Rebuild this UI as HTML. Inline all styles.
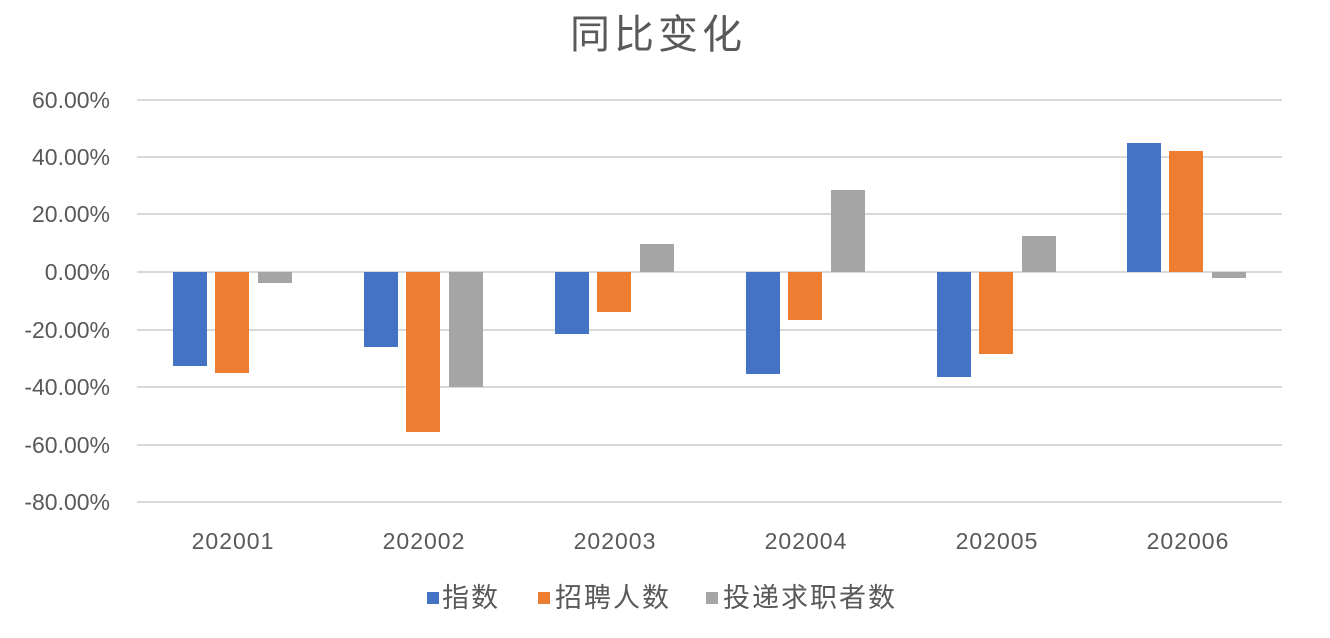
<!DOCTYPE html>
<html><head><meta charset="utf-8"><style>
html,body{margin:0;padding:0;background:#fff;}
svg{display:block;}
text{font-family:"Liberation Sans","Noto Sans CJK SC",sans-serif;fill:#595959;}
</style></head><body>
<svg width="1330" height="638" xmlns="http://www.w3.org/2000/svg">
<text x="658" y="48" font-size="40" text-anchor="middle" letter-spacing="4" fill="#595959">同比变化</text>
<g stroke="#d9d9d9" stroke-width="2">
<line x1="137" x2="1282" y1="100" y2="100"/>
<line x1="137" x2="1282" y1="157" y2="157"/>
<line x1="137" x2="1282" y1="214" y2="214"/>
<line x1="137" x2="1282" y1="272" y2="272"/>
<line x1="137" x2="1282" y1="330" y2="330"/>
<line x1="137" x2="1282" y1="387" y2="387"/>
<line x1="137" x2="1282" y1="445" y2="445"/>
<line x1="137" x2="1282" y1="502" y2="502"/>
</g>
<g font-size="23" text-anchor="end">
<text x="110" y="108">60.00%</text>
<text x="110" y="165">40.00%</text>
<text x="110" y="222">20.00%</text>
<text x="110" y="280">0.00%</text>
<text x="110" y="338">-20.00%</text>
<text x="110" y="395">-40.00%</text>
<text x="110" y="453">-60.00%</text>
<text x="110" y="510">-80.00%</text>
</g>
<g fill="#4472c4">
<rect x="173" y="272" width="34" height="94"/>
<rect x="364" y="272" width="34" height="75"/>
<rect x="555" y="272" width="34" height="62"/>
<rect x="746" y="272" width="34" height="102"/>
<rect x="937" y="272" width="34" height="105"/>
<rect x="1127" y="143" width="34" height="129"/>
</g>
<g fill="#ed7d31">
<rect x="215" y="272" width="34" height="101"/>
<rect x="406" y="272" width="34" height="160"/>
<rect x="597" y="272" width="34" height="40"/>
<rect x="788" y="272" width="34" height="48"/>
<rect x="979" y="272" width="34" height="82"/>
<rect x="1169" y="151" width="34" height="121"/>
</g>
<g fill="#a5a5a5">
<rect x="258" y="272" width="34" height="11"/>
<rect x="449" y="272" width="34" height="115"/>
<rect x="640" y="244" width="34" height="28"/>
<rect x="831" y="190" width="34" height="82"/>
<rect x="1022" y="236" width="34" height="36"/>
<rect x="1212" y="272" width="34" height="6"/>
</g>
<g font-size="23" text-anchor="middle" letter-spacing="1">
<text x="233" y="549">202001</text>
<text x="424" y="549">202002</text>
<text x="615" y="549">202003</text>
<text x="806" y="549">202004</text>
<text x="997" y="549">202005</text>
<text x="1188" y="549">202006</text>
</g>
<g font-size="27" letter-spacing="2">
<rect x="427" y="592" width="12" height="12" fill="#4472c4"/>
<text x="442" y="607">指数</text>
<rect x="538" y="592" width="12" height="12" fill="#ed7d31"/>
<text x="555" y="607">招聘人数</text>
<rect x="706" y="592" width="12" height="12" fill="#a5a5a5"/>
<text x="723" y="607">投递求职者数</text>
</g>
</svg>
</body></html>
